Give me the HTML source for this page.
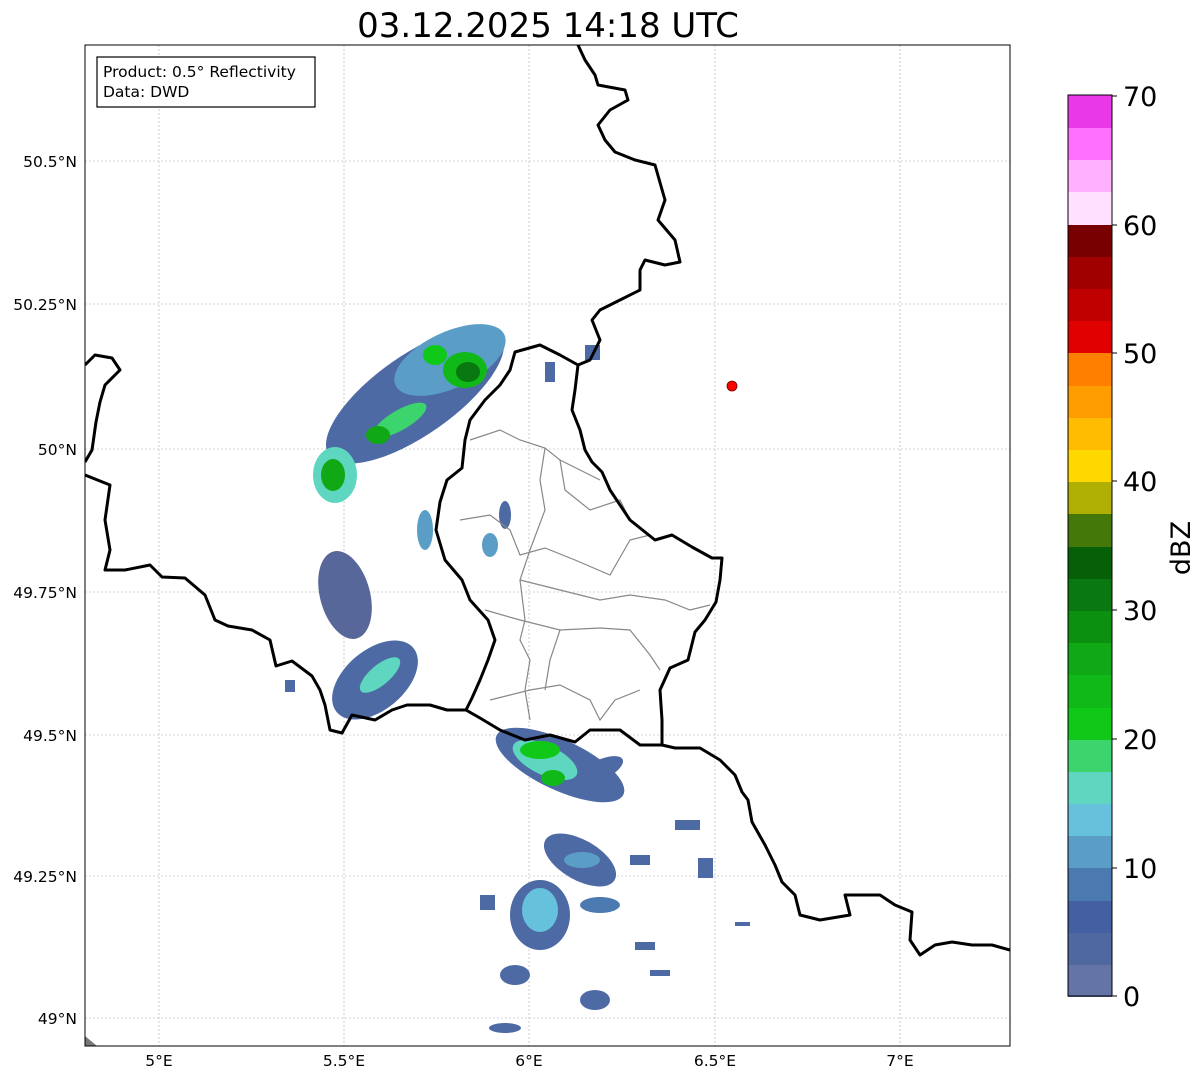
<!DOCTYPE html>
<html><head><meta charset="utf-8"><style>
body{margin:0;background:#fff;width:1202px;height:1081px;overflow:hidden;font-family:"DejaVu Sans","Liberation Sans",sans-serif}
</style></head><body>
<svg width="1202" height="1081" viewBox="0 0 1202 1081" xmlns="http://www.w3.org/2000/svg" font-family="DejaVu Sans, Liberation Sans, sans-serif">
<rect width="1202" height="1081" fill="#fff"/>
<text x="548" y="37" font-size="34" text-anchor="middle">03.12.2025 14:18 UTC</text>
<defs><clipPath id="c"><rect x="85" y="45" width="925" height="1001"/></clipPath></defs>
<g clip-path="url(#c)">
<g stroke="#aaa" stroke-width="0.6" stroke-dasharray="2,2">
<line x1="159" y1="45" x2="159" y2="1046"/><line x1="344" y1="45" x2="344" y2="1046"/><line x1="529" y1="45" x2="529" y2="1046"/><line x1="715" y1="45" x2="715" y2="1046"/><line x1="900" y1="45" x2="900" y2="1046"/>
<line x1="85" y1="161" x2="1010" y2="161"/><line x1="85" y1="304" x2="1010" y2="304"/><line x1="85" y1="449" x2="1010" y2="449"/><line x1="85" y1="592" x2="1010" y2="592"/><line x1="85" y1="735" x2="1010" y2="735"/><line x1="85" y1="876" x2="1010" y2="876"/><line x1="85" y1="1018" x2="1010" y2="1018"/>
</g>
<polygon points="85,1036 97,1046 85,1046" fill="#777"/>
<g>
<ellipse cx="415" cy="395" rx="105" ry="40" transform="rotate(-35 415 395)" fill="#4e6aa4"/>
<ellipse cx="450" cy="360" rx="60" ry="28" transform="rotate(-25 450 360)" fill="#5a9ec8"/>
<ellipse cx="465" cy="370" rx="22" ry="18" fill="#10b818"/>
<ellipse cx="468" cy="372" rx="12" ry="10" fill="#0a7810"/>
<ellipse cx="435" cy="355" rx="12" ry="10" fill="#10c818"/>
<ellipse cx="400" cy="420" rx="30" ry="10" transform="rotate(-30 400 420)" fill="#3cd46c"/>
<ellipse cx="378" cy="435" rx="12" ry="9" fill="#10a814"/>
<ellipse cx="335" cy="475" rx="22" ry="28" fill="#5fd6c0"/>
<ellipse cx="333" cy="475" rx="12" ry="16" fill="#10a814"/>
<ellipse cx="345" cy="595" rx="25" ry="45" transform="rotate(-15 345 595)" fill="#58679a"/>
<ellipse cx="375" cy="680" rx="50" ry="30" transform="rotate(-40 375 680)" fill="#4e6aa4"/>
<ellipse cx="380" cy="675" rx="25" ry="10" transform="rotate(-40 380 675)" fill="#5fd6c0"/>
<ellipse cx="425" cy="530" rx="8" ry="20" fill="#5a9ec8"/>
<ellipse cx="490" cy="545" rx="8" ry="12" fill="#5a9ec8"/>
<ellipse cx="505" cy="515" rx="6" ry="14" fill="#4e6aa4"/>
<ellipse cx="560" cy="765" rx="70" ry="25" transform="rotate(25 560 765)" fill="#4e6aa4"/>
<ellipse cx="545" cy="760" rx="35" ry="15" transform="rotate(25 545 760)" fill="#5fd6c0"/>
<ellipse cx="540" cy="750" rx="20" ry="9" fill="#10c818"/>
<ellipse cx="553" cy="778" rx="12" ry="8" fill="#10b818"/>
<ellipse cx="600" cy="770" rx="25" ry="10" transform="rotate(-25 600 770)" fill="#4e6aa4"/>
<ellipse cx="580" cy="860" rx="40" ry="20" transform="rotate(30 580 860)" fill="#4e6aa4"/>
<ellipse cx="582" cy="860" rx="18" ry="8" fill="#5a9ec8"/>
<ellipse cx="540" cy="915" rx="30" ry="35" fill="#4e6aa4"/>
<ellipse cx="540" cy="910" rx="18" ry="22" fill="#66c2dc"/>
<ellipse cx="600" cy="905" rx="20" ry="8" fill="#4a7ab0"/>
<ellipse cx="515" cy="975" rx="15" ry="10" fill="#4e6aa4"/>
<ellipse cx="595" cy="1000" rx="15" ry="10" fill="#4e6aa4"/>
<ellipse cx="505" cy="1028" rx="16" ry="5" fill="#4e6aa4"/>
<rect x="480" y="895" width="15" height="15" fill="#4e6aa4"/>
<rect x="630" y="855" width="20" height="10" fill="#4e6aa4"/>
<rect x="675" y="820" width="25" height="10" fill="#4e6aa4"/>
<rect x="698" y="858" width="15" height="20" fill="#4e6aa4"/>
<rect x="635" y="942" width="20" height="8" fill="#4e6aa4"/>
<rect x="650" y="970" width="20" height="6" fill="#4e6aa4"/>
<rect x="585" y="345" width="15" height="15" fill="#4e6aa4"/>
<rect x="545" y="362" width="10" height="20" fill="#4e6aa4"/>
<rect x="285" y="680" width="10" height="12" fill="#4e6aa4"/>
<rect x="735" y="922" width="15" height="4" fill="#4e6aa4"/>
</g>
<g fill="none" stroke="#888" stroke-width="1.2">
<path d="M470,440 L500,430 L520,440 L545,448 L560,460 L580,470 L600,480"/>
<path d="M545,448 L540,480 L545,510 L530,550 L520,580 L525,620 L520,640 L530,660 L525,690 L530,720"/>
<path d="M460,520 L490,515 L510,530 L520,555 L545,548 L575,560 L610,575 L630,540 L650,535"/>
<path d="M520,580 L560,590 L600,600 L630,595 L665,600 L690,610 L710,605"/>
<path d="M485,610 L520,620 L560,630 L600,628 L630,630 L650,655 L660,670"/>
<path d="M490,700 L530,690 L560,685 L590,700 L600,720 L615,700 L640,690"/>
<path d="M560,460 L565,490 L590,510 L620,500 L630,520"/>
<path d="M560,630 L550,660 L545,690"/>
</g>
<g fill="none" stroke="#000" stroke-width="3" stroke-linejoin="round">
<path d="M578,45 L585,60 L595,75 L598,85 L625,90 L628,100 L610,110 L598,125 L605,140 L615,152 L635,160 L655,165 L665,200 L658,220 L675,240 L680,262 L665,265 L645,260 L640,270 L640,290 L620,300 L600,310 L592,320 L600,340 L590,360 L578,365 L575,390 L572,410 L580,430 L585,450 L592,462 L602,472 L610,490 L630,520 L655,540 L672,535 L692,547 L712,558 L722,558 L720,580 L716,602 L705,620 L695,632 L688,660 L670,668 L660,690 L662,720 L662,745 L675,748 L700,748 L720,760 L735,775 L742,792 L748,800 L752,822 L765,845 L775,865 L782,882 L795,895 L800,915 L820,920 L850,915 L845,895 L880,895 L895,905 L912,912 L910,940 L920,955 L935,945 L952,942 L972,945 L992,945 L1010,950"/>
<path d="M578,365 L560,355 L540,345 L515,352 L510,370 L500,385 L485,400 L470,420 L465,440 L462,468 L447,480 L440,502 L436,530 L445,560 L462,580 L470,600 L488,620 L495,640 L488,660 L480,680 L472,698 L466,710 L480,718 L500,730 L525,740 L550,735 L575,742 L590,730 L620,730 L640,745 L662,745"/>
<path d="M85,365 L95,355 L112,358 L120,370 L105,385 L100,402 L96,422 L92,450 L85,462"/>
<path d="M85,475 L110,485 L105,520 L110,550 L105,570 L125,570 L150,565 L162,577 L185,578 L205,595 L215,620 L228,626 L252,630 L270,640 L276,666 L292,661 L312,676 L320,690 L325,705 L330,730 L342,733 L352,715 L375,720 L392,710 L407,705 L430,705 L447,710 L466,710"/>
</g>
</g>
<rect x="85" y="45" width="925" height="1001" fill="none" stroke="#000" stroke-width="1"/>
<circle cx="732" cy="386" r="5" fill="#f00" stroke="#600" stroke-width="0.8"/>
<rect x="97" y="57" width="218" height="50" fill="#fff" stroke="#000" stroke-width="1.2"/>
<text x="103" y="77" font-size="15.5">Product: 0.5° Reflectivity</text>
<text x="103" y="97" font-size="15.5">Data: DWD</text>
<g font-size="15.5" text-anchor="end">
<text x="77" y="167">50.5°N</text><text x="77" y="310">50.25°N</text><text x="77" y="455">50°N</text><text x="77" y="598">49.75°N</text><text x="77" y="741">49.5°N</text><text x="77" y="882">49.25°N</text><text x="77" y="1024">49°N</text>
</g>
<g font-size="15.5" text-anchor="middle">
<text x="159" y="1066">5°E</text><text x="344" y="1066">5.5°E</text><text x="529" y="1066">6°E</text><text x="715" y="1066">6.5°E</text><text x="900" y="1066">7°E</text>
</g>
<g>
<rect x="1068" y="964" width="44" height="33" fill="#6474a6"/>
<rect x="1068" y="932" width="44" height="33" fill="#5068a0"/>
<rect x="1068" y="900" width="44" height="33" fill="#4460a2"/>
<rect x="1068" y="868" width="44" height="33" fill="#4a7ab0"/>
<rect x="1068" y="835" width="44" height="33" fill="#5a9ec8"/>
<rect x="1068" y="803" width="44" height="33" fill="#66c2dc"/>
<rect x="1068" y="771" width="44" height="33" fill="#5fd6c0"/>
<rect x="1068" y="739" width="44" height="33" fill="#3cd46c"/>
<rect x="1068" y="707" width="44" height="33" fill="#10c818"/>
<rect x="1068" y="675" width="44" height="33" fill="#10b818"/>
<rect x="1068" y="642" width="44" height="33" fill="#10a814"/>
<rect x="1068" y="610" width="44" height="33" fill="#0c9010"/>
<rect x="1068" y="578" width="44" height="33" fill="#0a7810"/>
<rect x="1068" y="546" width="44" height="33" fill="#066008"/>
<rect x="1068" y="514" width="44" height="33" fill="#447808"/>
<rect x="1068" y="481" width="44" height="33" fill="#b0b004"/>
<rect x="1068" y="449" width="44" height="33" fill="#ffd800"/>
<rect x="1068" y="417" width="44" height="33" fill="#ffbc00"/>
<rect x="1068" y="385" width="44" height="33" fill="#ff9c00"/>
<rect x="1068" y="353" width="44" height="33" fill="#ff8000"/>
<rect x="1068" y="320" width="44" height="33" fill="#e00000"/>
<rect x="1068" y="288" width="44" height="33" fill="#c00000"/>
<rect x="1068" y="256" width="44" height="33" fill="#a00000"/>
<rect x="1068" y="224" width="44" height="33" fill="#780000"/>
<rect x="1068" y="192" width="44" height="33" fill="#ffe0ff"/>
<rect x="1068" y="159" width="44" height="33" fill="#ffb0ff"/>
<rect x="1068" y="127" width="44" height="33" fill="#ff70ff"/>
<rect x="1068" y="95" width="44" height="33" fill="#e838e8"/>
<rect x="1068" y="95" width="44" height="901" fill="none" stroke="#000" stroke-width="1"/>
</g>
<g font-size="27">
<text x="1123" y="106">70</text><text x="1123" y="235">60</text><text x="1123" y="363">50</text><text x="1123" y="491">40</text><text x="1123" y="620">30</text><text x="1123" y="749">20</text><text x="1123" y="878">10</text><text x="1123" y="1006">0</text>
</g>
<g stroke="#000"><line x1="1112" y1="96" x2="1117" y2="96"/><line x1="1112" y1="225" x2="1117" y2="225"/><line x1="1112" y1="353" x2="1117" y2="353"/><line x1="1112" y1="481" x2="1117" y2="481"/><line x1="1112" y1="610" x2="1117" y2="610"/><line x1="1112" y1="739" x2="1117" y2="739"/><line x1="1112" y1="868" x2="1117" y2="868"/><line x1="1112" y1="996" x2="1117" y2="996"/></g>
<text x="1190" y="548" font-size="27" text-anchor="middle" transform="rotate(-90 1190 548)">dBZ</text>
</svg>
</body></html>
